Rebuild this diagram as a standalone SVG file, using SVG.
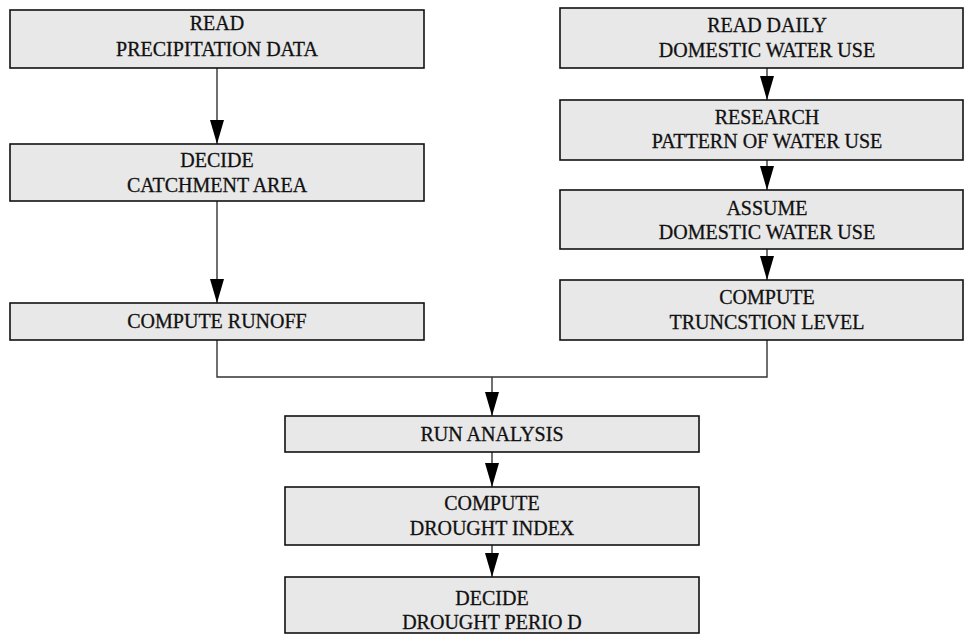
<svg xmlns="http://www.w3.org/2000/svg" width="965" height="637" viewBox="0 0 965 637">
<style>
.box{fill:#e8e8e8;stroke:#111;stroke-width:1.6}
.t{font-family:"Liberation Serif","Times New Roman",serif;font-size:20px;fill:#111;stroke:#111;stroke-width:0.3;text-anchor:middle}
.c{fill:none;stroke:#333;stroke-width:1.4}
</style>
<defs>
<marker id="ah" markerUnits="userSpaceOnUse" markerWidth="24" markerHeight="14" refX="24" refY="7" orient="auto" viewBox="0 0 24 14">
<path d="M0,0 L24,7 L0,14 Z" fill="#000"/>
</marker>
</defs>
<g id="connectors">
<line class="c" x1="217" y1="68" x2="217" y2="144" marker-end="url(#ah)"/>
<line class="c" x1="217" y1="201" x2="217" y2="303" marker-end="url(#ah)"/>
<line class="c" x1="767" y1="68" x2="767" y2="100" marker-end="url(#ah)"/>
<line class="c" x1="767" y1="160" x2="767" y2="190" marker-end="url(#ah)"/>
<line class="c" x1="767" y1="249" x2="767" y2="280" marker-end="url(#ah)"/>
<polyline class="c" points="217,340 217,377 767,377 767,340"/>
<line class="c" x1="492" y1="377" x2="492" y2="416" marker-end="url(#ah)"/>
<line class="c" x1="492" y1="452" x2="492" y2="487" marker-end="url(#ah)"/>
<line class="c" x1="492" y1="545" x2="492" y2="577" marker-end="url(#ah)"/>
</g>
<g id="n1"><rect class="box" x="10" y="10" width="414" height="58"/><text class="t" x="217" y="30">READ</text><text class="t" x="217" y="56">PRECIPITATION DATA</text></g>
<g id="n2"><rect class="box" x="10" y="144" width="414" height="57"/><text class="t" x="217" y="167">DECIDE</text><text class="t" x="217" y="192">CATCHMENT AREA</text></g>
<g id="n3"><rect class="box" x="10" y="303" width="414" height="37"/><text class="t" x="217" y="328">COMPUTE RUNOFF</text></g>
<g id="n4"><rect class="box" x="560" y="8" width="403" height="60"/><text class="t" x="767" y="32">READ DAILY</text><text class="t" x="767" y="57">DOMESTIC WATER USE</text></g>
<g id="n5"><rect class="box" x="560" y="100" width="403" height="60"/><text class="t" x="767" y="124">RESEARCH</text><text class="t" x="767" y="148">PATTERN OF WATER USE</text></g>
<g id="n6"><rect class="box" x="560" y="190" width="403" height="59"/><text class="t" x="767" y="215">ASSUME</text><text class="t" x="767" y="239">DOMESTIC WATER USE</text></g>
<g id="n7"><rect class="box" x="560" y="280" width="403" height="60"/><text class="t" x="767" y="304">COMPUTE</text><text class="t" x="767" y="329">TRUNCSTION LEVEL</text></g>
<g id="n8"><rect class="box" x="285" y="416" width="414" height="36"/><text class="t" x="492" y="441">RUN ANALYSIS</text></g>
<g id="n9"><rect class="box" x="285" y="487" width="414" height="58"/><text class="t" x="492" y="510">COMPUTE</text><text class="t" x="492" y="535">DROUGHT INDEX</text></g>
<g id="n10"><rect class="box" x="285" y="577" width="414" height="56"/><text class="t" x="492" y="605">DECIDE</text><text class="t" x="492" y="629">DROUGHT PERIO D</text></g>
</svg>
